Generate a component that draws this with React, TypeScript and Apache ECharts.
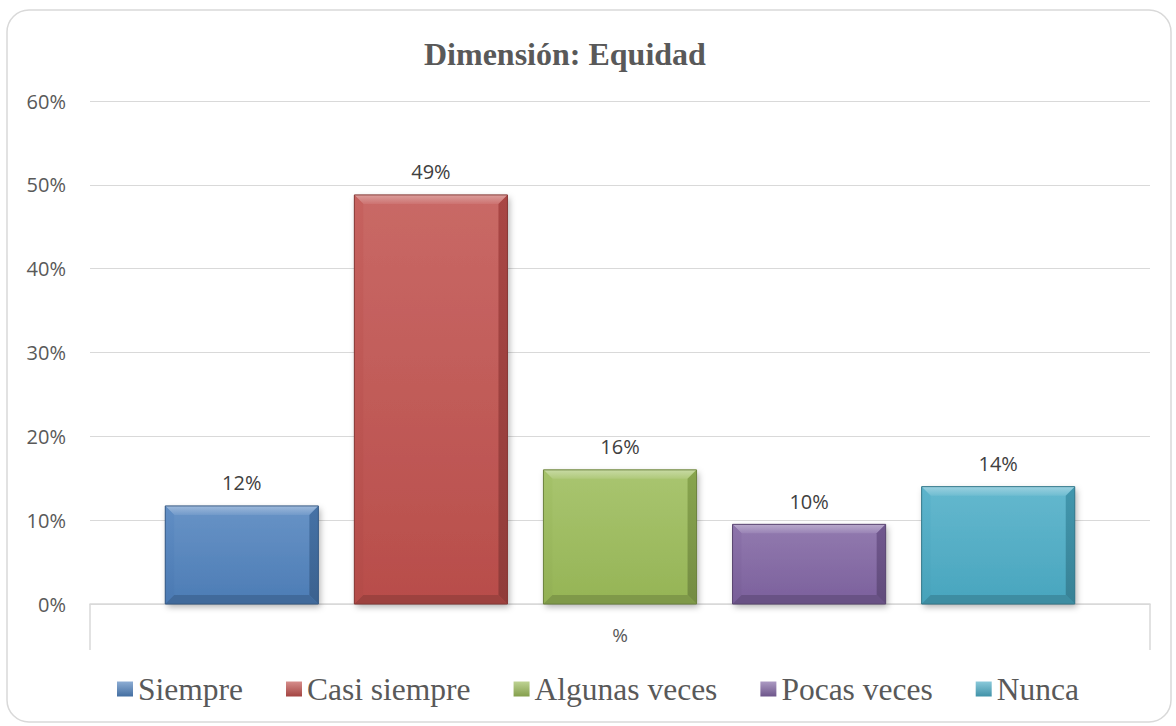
import React, { useEffect, useRef } from "react";
import * as echarts from "echarts";

const categories = ["%"];
const seriesNames = ["Siempre", "Casi siempre", "Algunas veces", "Pocas veces", "Nunca"];
const seriesValues = [11.7, 48.8, 16.0, 9.5, 14.0];
const seriesColors = ["#4F81BD", "#C0504D", "#9BBB59", "#8064A2", "#4BACC6"];
const yMin = 0;
const yMax = 60;
const yInterval = 10;

const SERIF = '"Liberation Serif", "Times New Roman", Times, serif';
const SANS = '"Open Sans", sans-serif';

function hexToRgb(hex: string): number[] {
  const h = hex.replace("#", "");
  return [parseInt(h.slice(0, 2), 16), parseInt(h.slice(2, 4), 16), parseInt(h.slice(4, 6), 16)];
}
function mix(hex: string, target: number[], t: number): string {
  const c = hexToRgb(hex);
  const r = c.map((v, i) => Math.round(v + (target[i] - v) * t));
  return `rgb(${r[0]},${r[1]},${r[2]})`;
}
const lighten = (hex: string, t: number) => mix(hex, [255, 255, 255], t);
const darken = (hex: string, t: number) => mix(hex, [0, 0, 0], t);

const vGrad = (c1: string, c2: string) =>
  new echarts.graphic.LinearGradient(0, 0, 0, 1, [
    { offset: 0, color: c1 },
    { offset: 1, color: c2 },
  ]);

const N = seriesNames.length;
const CAT_GAP = 0.142;
const BAR_GAP = 0.235;

function makeRenderItem(idx: number, base: string) {
  return (params: any, api: any) => {
    const val = api.value(1);
    const topPt = api.coord([api.value(0), val]);
    const botPt = api.coord([api.value(0), 0]);
    const band = api.size([1, 0])[0];
    const w = (band * (1 - CAT_GAP)) / (N + (N - 1) * BAR_GAP);
    const x = topPt[0] - band / 2 + (band * CAT_GAP) / 2 + idx * w * (1 + BAR_GAP);
    const y = topPt[1];
    const h = botPt[1] - topPt[1];
    const b = Math.min(9, h / 2);
    return {
      type: "group",
      children: [
        {
          type: "rect",
          shape: { x, y, width: w, height: h },
          style: {
            fill: vGrad(lighten(base, 0.14), darken(base, 0.04)),
            shadowBlur: 6,
            shadowOffsetX: 2,
            shadowOffsetY: 3,
            shadowColor: "rgba(0,0,0,0.3)",
          },
        },
        {
          type: "polygon",
          shape: { points: [[x, y], [x + w, y], [x + w - b, y + b], [x + b, y + b]] },
          style: { fill: vGrad(lighten(base, 0.45), lighten(base, 0.2)) },
        },
        {
          type: "polygon",
          shape: { points: [[x, y], [x + b, y + b], [x + b, y + h - b], [x, y + h]] },
          style: { fill: vGrad(lighten(base, 0.1), darken(base, 0.06)) },
        },
        {
          type: "polygon",
          shape: { points: [[x + w, y], [x + w, y + h], [x + w - b, y + h - b], [x + w - b, y + b]] },
          style: { fill: vGrad(darken(base, 0.12), darken(base, 0.25)) },
        },
        {
          type: "polygon",
          shape: { points: [[x, y + h], [x + w, y + h], [x + w - b, y + h - b], [x + b, y + h - b]] },
          style: { fill: darken(base, 0.18) },
        },
        {
          type: "rect",
          shape: { x, y, width: w, height: h },
          style: { fill: "rgba(0,0,0,0)", stroke: darken(base, 0.3), lineWidth: 1 },
        },
        {
          type: "text",
          x: x + w / 2,
          y: y - 13,
          style: {
            text: Math.round(val) + "%",
            fill: "#404040",
            fontFamily: SANS,
            fontSize: 20,
            align: "center",
            verticalAlign: "bottom",
          },
        },
      ],
    };
  };
}

export default function App() {
  const ref = useRef<HTMLDivElement>(null);
  useEffect(() => {
    document.body.style.margin = "0";
    const chart = echarts.init(ref.current as HTMLDivElement, null, { renderer: "svg" });
    const option: any = {
      animation: false,
      backgroundColor: "#ffffff",
      title: {
        text: "Dimensión: Equidad",
        left: 424,
        top: 38,
        padding: 0,
        textStyle: {
          fontFamily: SERIF,
          fontWeight: "bold",
          fontSize: 32,
          color: "#595959",
        },
      },
      graphic: [
        {
          type: "rect",
          z: -10,
          shape: { x: 7, y: 10, width: 1164, height: 712, r: 22 },
          style: { fill: "rgba(0,0,0,0)", stroke: "#d9d9d9", lineWidth: 1.5 },
        },
      ],
      legend: {
        left: 117,
        top: 673,
        padding: 0,
        itemGap: 43,
        itemWidth: 16,
        itemHeight: 15,
        icon: "rect",
        textStyle: {
          fontFamily: SERIF,
          fontWeight: "normal",
          fontSize: 31.5,
          color: "#595959",
        },
        data: seriesNames.map((n, i) => ({
          name: n,
          itemStyle: { color: vGrad(lighten(seriesColors[i], 0.35), darken(seriesColors[i], 0.15)) },
        })),
      },
      grid: { left: 90, right: 26, top: 101, bottom: 122, containLabel: false },
      xAxis: {
        type: "category",
        data: categories,
        boundaryGap: true,
        axisLine: { show: true, lineStyle: { color: "#d9d9d9", width: 1.5 } },
        axisTick: { show: true, length: 46, lineStyle: { color: "#d9d9d9", width: 1.5 } },
        axisLabel: {
          margin: 21,
          fontFamily: SANS,
          fontSize: 19,
          color: "#595959",
        },
      },
      yAxis: {
        type: "value",
        min: yMin,
        max: yMax,
        interval: yInterval,
        axisLine: { show: false },
        axisTick: { show: false },
        splitLine: { lineStyle: { color: "#d9d9d9", width: 1 } },
        axisLabel: {
          formatter: "{value}%",
          margin: 24,
          fontFamily: SANS,
          fontSize: 20,
          color: "#595959",
        },
      },
      series: seriesNames.map((name, i) => ({
        name,
        type: "custom",
        color: seriesColors[i],
        itemStyle: { color: seriesColors[i] },
        encode: { x: 0, y: 1 },
        data: [[0, seriesValues[i]]],
        renderItem: makeRenderItem(i, seriesColors[i]),
      })),
    };
    chart.setOption(option);
    return () => chart.dispose();
  }, []);
  return <div ref={ref} style={{ width: 1176, height: 726 }} />;
}
